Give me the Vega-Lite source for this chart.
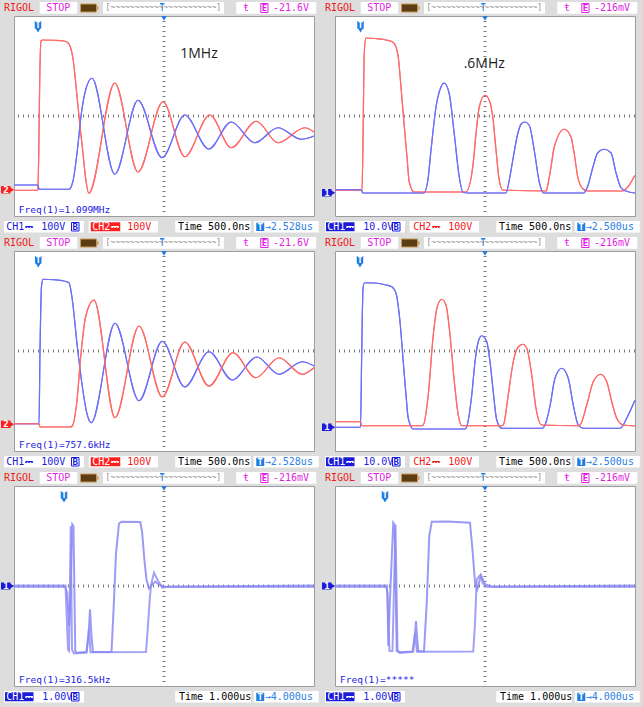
{
  "$schema": "https://vega.github.io/schema/vega-lite/v6.json",
  "background": "#dddddd",
  "padding": 0,
  "config": {"view": {"fill": "#ffffff", "stroke": "#9c9c9c"}, "header": {"labels": false, "title": null, "labelFontSize": 0, "labelPadding": 0, "titlePadding": 0}},
  "data": {"values": [
    {"p":1,"k":"tr","s":"CH2","t":0,"v":-2.97},{"p":1,"k":"tr","s":"CH2","t":0.95,"v":-2.97},{"p":1,"k":"tr","s":"CH2","t":0.99,"v":-1.5},{"p":1,"k":"tr","s":"CH2","t":1.03,"v":1.5},{"p":1,"k":"tr","s":"CH2","t":1.08,"v":3.0},{"p":1,"k":"tr","s":"CH2","t":1.15,"v":3.04},{"p":1,"k":"tr","s":"CH2","t":1.6,"v":3.03},{"p":1,"k":"tr","s":"CH2","t":2.0,"v":3.0},{"p":1,"k":"tr","s":"CH2","t":2.16,"v":2.93},{"p":1,"k":"tr","s":"CH2","t":2.36,"v":2.3},{"p":1,"k":"tr","s":"CH2","t":2.5,"v":1.0},{"p":1,"k":"tr","s":"CH2","t":2.63,"v":-0.3},{"p":1,"k":"tr","s":"CH2","t":2.76,"v":-1.5},{"p":1,"k":"tr","s":"CH2","t":2.88,"v":-2.6},{"p":1,"k":"tr","s":"CH2","t":2.99,"v":-3.09},{"p":1,"k":"tr","s":"CH2","t":4.03,"v":1.32},{"p":1,"k":"tr","s":"CH2","t":4.96,"v":-2.24},{"p":1,"k":"tr","s":"CH2","t":5.96,"v":0.57},{"p":1,"k":"tr","s":"CH2","t":6.83,"v":-1.63},{"p":1,"k":"tr","s":"CH2","t":7.83,"v":0.04},{"p":1,"k":"tr","s":"CH2","t":8.69,"v":-1.27},{"p":1,"k":"tr","s":"CH2","t":9.69,"v":-0.21},{"p":1,"k":"tr","s":"CH2","t":10.56,"v":-1.07},{"p":1,"k":"tr","s":"CH2","t":11.63,"v":-0.47},{"p":1,"k":"tr","s":"CH2","t":12,"v":-0.64},
    {"p":1,"k":"tr","s":"CH1","t":0,"v":-2.76},{"p":1,"k":"tr","s":"CH1","t":0.96,"v":-2.76},{"p":1,"k":"tr","s":"CH1","t":1.0,"v":-2.93},{"p":1,"k":"tr","s":"CH1","t":2.2,"v":-2.93},{"p":1,"k":"tr","s":"CH1","t":2.36,"v":-2.6},{"p":1,"k":"tr","s":"CH1","t":2.53,"v":-1.4},{"p":1,"k":"tr","s":"CH1","t":2.69,"v":0.07},{"p":1,"k":"tr","s":"CH1","t":2.89,"v":1.13},{"p":1,"k":"tr","s":"CH1","t":3.12,"v":1.51},{"p":1,"k":"tr","s":"CH1","t":4.03,"v":-2.33},{"p":1,"k":"tr","s":"CH1","t":4.96,"v":0.63},{"p":1,"k":"tr","s":"CH1","t":5.92,"v":-1.67},{"p":1,"k":"tr","s":"CH1","t":6.83,"v":0.04},{"p":1,"k":"tr","s":"CH1","t":7.79,"v":-1.32},{"p":1,"k":"tr","s":"CH1","t":8.69,"v":-0.24},{"p":1,"k":"tr","s":"CH1","t":9.63,"v":-1.07},{"p":1,"k":"tr","s":"CH1","t":10.56,"v":-0.47},{"p":1,"k":"tr","s":"CH1","t":11.49,"v":-0.93},{"p":1,"k":"tr","s":"CH1","t":12,"v":-0.8},

    {"p":2,"k":"tr","s":"CH2","t":0,"v":-2.97},{"p":2,"k":"tr","s":"CH2","t":1.08,"v":-2.97},{"p":2,"k":"tr","s":"CH2","t":1.12,"v":-1.0},{"p":2,"k":"tr","s":"CH2","t":1.17,"v":2.5},{"p":2,"k":"tr","s":"CH2","t":1.24,"v":3.12},{"p":2,"k":"tr","s":"CH2","t":1.6,"v":3.1},{"p":2,"k":"tr","s":"CH2","t":2.0,"v":3.05},{"p":2,"k":"tr","s":"CH2","t":2.31,"v":2.96},{"p":2,"k":"tr","s":"CH2","t":2.44,"v":2.76},{"p":2,"k":"tr","s":"CH2","t":2.53,"v":2.36},{"p":2,"k":"tr","s":"CH2","t":2.64,"v":1.16},{"p":2,"k":"tr","s":"CH2","t":2.75,"v":-0.17},{"p":2,"k":"tr","s":"CH2","t":2.88,"v":-1.64},{"p":2,"k":"tr","s":"CH2","t":2.97,"v":-2.64},{"p":2,"k":"tr","s":"CH2","t":3.17,"v":-3.04},{"p":2,"k":"tr","s":"CH2","t":5.24,"v":-3.04},{"p":2,"k":"tr","s":"CH2","t":5.51,"v":-2.04},{"p":2,"k":"tr","s":"CH2","t":5.64,"v":-0.71},{"p":2,"k":"tr","s":"CH2","t":5.77,"v":0.36},{"p":2,"k":"tr","s":"CH2","t":6.0,"v":0.83},{"p":2,"k":"tr","s":"CH2","t":6.17,"v":0.63},{"p":2,"k":"tr","s":"CH2","t":6.31,"v":-0.03},{"p":2,"k":"tr","s":"CH2","t":6.44,"v":-1.36},{"p":2,"k":"tr","s":"CH2","t":6.57,"v":-2.56},{"p":2,"k":"tr","s":"CH2","t":6.71,"v":-2.96},{"p":2,"k":"tr","s":"CH2","t":8.45,"v":-3.0},{"p":2,"k":"tr","s":"CH2","t":8.51,"v":-2.77},{"p":2,"k":"tr","s":"CH2","t":8.64,"v":-2.04},{"p":2,"k":"tr","s":"CH2","t":8.77,"v":-1.24},{"p":2,"k":"tr","s":"CH2","t":9.17,"v":-0.53},{"p":2,"k":"tr","s":"CH2","t":9.44,"v":-0.84},{"p":2,"k":"tr","s":"CH2","t":9.57,"v":-1.51},{"p":2,"k":"tr","s":"CH2","t":9.71,"v":-2.44},{"p":2,"k":"tr","s":"CH2","t":9.91,"v":-2.91},{"p":2,"k":"tr","s":"CH2","t":10.1,"v":-3.0},{"p":2,"k":"tr","s":"CH2","t":11.5,"v":-3.0},{"p":2,"k":"tr","s":"CH2","t":11.71,"v":-2.84},{"p":2,"k":"tr","s":"CH2","t":12,"v":-2.37},
    {"p":2,"k":"tr","s":"CH1","t":0,"v":-2.95},{"p":2,"k":"tr","s":"CH1","t":1.06,"v":-2.95},{"p":2,"k":"tr","s":"CH1","t":1.1,"v":-3.08},{"p":2,"k":"tr","s":"CH1","t":3.55,"v":-3.08},{"p":2,"k":"tr","s":"CH1","t":3.71,"v":-2.6},{"p":2,"k":"tr","s":"CH1","t":3.84,"v":-1.37},{"p":2,"k":"tr","s":"CH1","t":4.04,"v":0.36},{"p":2,"k":"tr","s":"CH1","t":4.24,"v":1.16},{"p":2,"k":"tr","s":"CH1","t":4.37,"v":1.32},{"p":2,"k":"tr","s":"CH1","t":4.57,"v":0.89},{"p":2,"k":"tr","s":"CH1","t":4.77,"v":-0.71},{"p":2,"k":"tr","s":"CH1","t":4.97,"v":-2.44},{"p":2,"k":"tr","s":"CH1","t":5.12,"v":-3.05},{"p":2,"k":"tr","s":"CH1","t":5.3,"v":-3.08},{"p":2,"k":"tr","s":"CH1","t":6.84,"v":-3.08},{"p":2,"k":"tr","s":"CH1","t":6.97,"v":-2.57},{"p":2,"k":"tr","s":"CH1","t":7.11,"v":-1.77},{"p":2,"k":"tr","s":"CH1","t":7.31,"v":-0.71},{"p":2,"k":"tr","s":"CH1","t":7.44,"v":-0.33},{"p":2,"k":"tr","s":"CH1","t":7.6,"v":-0.24},{"p":2,"k":"tr","s":"CH1","t":7.77,"v":-0.37},{"p":2,"k":"tr","s":"CH1","t":7.97,"v":-1.37},{"p":2,"k":"tr","s":"CH1","t":8.17,"v":-2.64},{"p":2,"k":"tr","s":"CH1","t":8.35,"v":-3.08},{"p":2,"k":"tr","s":"CH1","t":9.95,"v":-3.08},{"p":2,"k":"tr","s":"CH1","t":10.11,"v":-2.8},{"p":2,"k":"tr","s":"CH1","t":10.31,"v":-2.07},{"p":2,"k":"tr","s":"CH1","t":10.51,"v":-1.47},{"p":2,"k":"tr","s":"CH1","t":10.77,"v":-1.33},{"p":2,"k":"tr","s":"CH1","t":11.04,"v":-1.47},{"p":2,"k":"tr","s":"CH1","t":11.24,"v":-2.27},{"p":2,"k":"tr","s":"CH1","t":11.44,"v":-2.87},{"p":2,"k":"tr","s":"CH1","t":11.64,"v":-3.0},{"p":2,"k":"tr","s":"CH1","t":12,"v":-3.08},

    {"p":3,"k":"tr","s":"CH1","t":0,"v":-2.91},{"p":3,"k":"tr","s":"CH1","t":1.0,"v":-2.91},{"p":3,"k":"tr","s":"CH1","t":1.04,"v":0},{"p":3,"k":"tr","s":"CH1","t":1.1,"v":2.6},{"p":3,"k":"tr","s":"CH1","t":1.16,"v":2.87},{"p":3,"k":"tr","s":"CH1","t":1.6,"v":2.85},{"p":3,"k":"tr","s":"CH1","t":2.0,"v":2.8},{"p":3,"k":"tr","s":"CH1","t":2.2,"v":2.73},{"p":3,"k":"tr","s":"CH1","t":2.33,"v":2.07},{"p":3,"k":"tr","s":"CH1","t":2.53,"v":0.2},{"p":3,"k":"tr","s":"CH1","t":2.73,"v":-1.4},{"p":3,"k":"tr","s":"CH1","t":2.91,"v":-2.47},{"p":3,"k":"tr","s":"CH1","t":3.09,"v":-2.87},{"p":3,"k":"tr","s":"CH1","t":4.04,"v":1.11},{"p":3,"k":"tr","s":"CH1","t":5.0,"v":-1.99},{"p":3,"k":"tr","s":"CH1","t":5.93,"v":0.39},{"p":3,"k":"tr","s":"CH1","t":6.83,"v":-1.44},{"p":3,"k":"tr","s":"CH1","t":7.8,"v":-0.03},{"p":3,"k":"tr","s":"CH1","t":8.73,"v":-1.16},{"p":3,"k":"tr","s":"CH1","t":9.71,"v":-0.24},{"p":3,"k":"tr","s":"CH1","t":10.6,"v":-0.93},{"p":3,"k":"tr","s":"CH1","t":11.53,"v":-0.43},{"p":3,"k":"tr","s":"CH1","t":12,"v":-0.6},
    {"p":3,"k":"tr","s":"CH2","t":0,"v":-2.91},{"p":3,"k":"tr","s":"CH2","t":1.0,"v":-2.91},{"p":3,"k":"tr","s":"CH2","t":1.04,"v":-3.04},{"p":3,"k":"tr","s":"CH2","t":2.25,"v":-3.04},{"p":3,"k":"tr","s":"CH2","t":2.33,"v":-3.0},{"p":3,"k":"tr","s":"CH2","t":2.51,"v":-2.07},{"p":3,"k":"tr","s":"CH2","t":2.67,"v":-0.2},{"p":3,"k":"tr","s":"CH2","t":2.87,"v":1.4},{"p":3,"k":"tr","s":"CH2","t":3.2,"v":2.04},{"p":3,"k":"tr","s":"CH2","t":4.04,"v":-2.67},{"p":3,"k":"tr","s":"CH2","t":5.0,"v":1.0},{"p":3,"k":"tr","s":"CH2","t":5.93,"v":-1.84},{"p":3,"k":"tr","s":"CH2","t":6.83,"v":0.36},{"p":3,"k":"tr","s":"CH2","t":7.8,"v":-1.4},{"p":3,"k":"tr","s":"CH2","t":8.76,"v":-0.07},{"p":3,"k":"tr","s":"CH2","t":9.67,"v":-1.07},{"p":3,"k":"tr","s":"CH2","t":10.6,"v":-0.27},{"p":3,"k":"tr","s":"CH2","t":11.53,"v":-0.93},{"p":3,"k":"tr","s":"CH2","t":12,"v":-0.67},

    {"p":4,"k":"tr","s":"CH1","t":0,"v":-3.05},{"p":4,"k":"tr","s":"CH1","t":1.02,"v":-3.05},{"p":4,"k":"tr","s":"CH1","t":1.07,"v":0},{"p":4,"k":"tr","s":"CH1","t":1.12,"v":2.5},{"p":4,"k":"tr","s":"CH1","t":1.18,"v":2.73},{"p":4,"k":"tr","s":"CH1","t":1.6,"v":2.72},{"p":4,"k":"tr","s":"CH1","t":2.0,"v":2.65},{"p":4,"k":"tr","s":"CH1","t":2.27,"v":2.57},{"p":4,"k":"tr","s":"CH1","t":2.44,"v":2.31},{"p":4,"k":"tr","s":"CH1","t":2.6,"v":1.17},{"p":4,"k":"tr","s":"CH1","t":2.73,"v":-0.43},{"p":4,"k":"tr","s":"CH1","t":2.84,"v":-1.76},{"p":4,"k":"tr","s":"CH1","t":2.93,"v":-2.69},{"p":4,"k":"tr","s":"CH1","t":3.13,"v":-3.12},{"p":4,"k":"tr","s":"CH1","t":5.2,"v":-3.12},{"p":4,"k":"tr","s":"CH1","t":5.27,"v":-3.03},{"p":4,"k":"tr","s":"CH1","t":5.47,"v":-1.76},{"p":4,"k":"tr","s":"CH1","t":5.6,"v":-0.43},{"p":4,"k":"tr","s":"CH1","t":5.73,"v":0.37},{"p":4,"k":"tr","s":"CH1","t":5.87,"v":0.61},{"p":4,"k":"tr","s":"CH1","t":6.07,"v":0.37},{"p":4,"k":"tr","s":"CH1","t":6.2,"v":-0.43},{"p":4,"k":"tr","s":"CH1","t":6.33,"v":-1.63},{"p":4,"k":"tr","s":"CH1","t":6.47,"v":-2.76},{"p":4,"k":"tr","s":"CH1","t":6.67,"v":-3.09},{"p":4,"k":"tr","s":"CH1","t":8.3,"v":-3.09},{"p":4,"k":"tr","s":"CH1","t":8.47,"v":-2.75},{"p":4,"k":"tr","s":"CH1","t":8.6,"v":-2.2},{"p":4,"k":"tr","s":"CH1","t":8.8,"v":-1.09},{"p":4,"k":"tr","s":"CH1","t":9.07,"v":-0.69},{"p":4,"k":"tr","s":"CH1","t":9.33,"v":-1.09},{"p":4,"k":"tr","s":"CH1","t":9.53,"v":-2.16},{"p":4,"k":"tr","s":"CH1","t":9.73,"v":-2.96},{"p":4,"k":"tr","s":"CH1","t":9.93,"v":-3.09},{"p":4,"k":"tr","s":"CH1","t":11.4,"v":-3.09},{"p":4,"k":"tr","s":"CH1","t":11.73,"v":-2.56},{"p":4,"k":"tr","s":"CH1","t":12,"v":-1.96},
    {"p":4,"k":"tr","s":"CH2","t":0,"v":-2.83},{"p":4,"k":"tr","s":"CH2","t":1.02,"v":-2.83},{"p":4,"k":"tr","s":"CH2","t":1.07,"v":-2.99},{"p":4,"k":"tr","s":"CH2","t":3.45,"v":-2.99},{"p":4,"k":"tr","s":"CH2","t":3.53,"v":-2.96},{"p":4,"k":"tr","s":"CH2","t":3.73,"v":-1.76},{"p":4,"k":"tr","s":"CH2","t":3.93,"v":0.64},{"p":4,"k":"tr","s":"CH2","t":4.09,"v":1.77},{"p":4,"k":"tr","s":"CH2","t":4.27,"v":2.07},{"p":4,"k":"tr","s":"CH2","t":4.44,"v":1.84},{"p":4,"k":"tr","s":"CH2","t":4.6,"v":0.64},{"p":4,"k":"tr","s":"CH2","t":4.76,"v":-1.09},{"p":4,"k":"tr","s":"CH2","t":4.93,"v":-2.56},{"p":4,"k":"tr","s":"CH2","t":5.07,"v":-2.99},{"p":4,"k":"tr","s":"CH2","t":6.65,"v":-2.99},{"p":4,"k":"tr","s":"CH2","t":6.73,"v":-2.96},{"p":4,"k":"tr","s":"CH2","t":6.93,"v":-1.76},{"p":4,"k":"tr","s":"CH2","t":7.13,"v":-0.43},{"p":4,"k":"tr","s":"CH2","t":7.33,"v":0.16},{"p":4,"k":"tr","s":"CH2","t":7.51,"v":0.27},{"p":4,"k":"tr","s":"CH2","t":7.67,"v":0.11},{"p":4,"k":"tr","s":"CH2","t":7.87,"v":-0.96},{"p":4,"k":"tr","s":"CH2","t":8.04,"v":-2.29},{"p":4,"k":"tr","s":"CH2","t":8.27,"v":-2.96},{"p":4,"k":"tr","s":"CH2","t":9.7,"v":-2.99},{"p":4,"k":"tr","s":"CH2","t":9.8,"v":-2.96},{"p":4,"k":"tr","s":"CH2","t":10.07,"v":-2.16},{"p":4,"k":"tr","s":"CH2","t":10.33,"v":-1.23},{"p":4,"k":"tr","s":"CH2","t":10.63,"v":-0.93},{"p":4,"k":"tr","s":"CH2","t":10.87,"v":-1.23},{"p":4,"k":"tr","s":"CH2","t":11.07,"v":-2.03},{"p":4,"k":"tr","s":"CH2","t":11.27,"v":-2.69},{"p":4,"k":"tr","s":"CH2","t":11.53,"v":-2.96},{"p":4,"k":"tr","s":"CH2","t":12,"v":-3.0},

    {"p":5,"k":"tr","s":"A","t":0,"v":-0.03},{"p":5,"k":"tr","s":"A","t":2.05,"v":-0.03},{"p":5,"k":"tr","s":"A","t":2.13,"v":-0.3},{"p":5,"k":"tr","s":"A","t":2.2,"v":-1.6},{"p":5,"k":"tr","s":"A","t":2.26,"v":-0.4},{"p":5,"k":"tr","s":"A","t":2.33,"v":2.47},{"p":5,"k":"tr","s":"A","t":2.38,"v":2.4},{"p":5,"k":"tr","s":"A","t":2.45,"v":-2.6},{"p":5,"k":"tr","s":"A","t":2.5,"v":-2.67},{"p":5,"k":"tr","s":"A","t":2.9,"v":-2.64},{"p":5,"k":"tr","s":"A","t":2.98,"v":-2.0},{"p":5,"k":"tr","s":"A","t":3.04,"v":-0.93},{"p":5,"k":"tr","s":"A","t":3.1,"v":-2.0},{"p":5,"k":"tr","s":"A","t":3.16,"v":-2.64},{"p":5,"k":"tr","s":"A","t":3.9,"v":-2.64},{"p":5,"k":"tr","s":"A","t":3.98,"v":-1.0},{"p":5,"k":"tr","s":"A","t":4.08,"v":1.3},{"p":5,"k":"tr","s":"A","t":4.2,"v":2.5},{"p":5,"k":"tr","s":"A","t":4.3,"v":2.57},{"p":5,"k":"tr","s":"A","t":5.05,"v":2.56},{"p":5,"k":"tr","s":"A","t":5.12,"v":2.2},{"p":5,"k":"tr","s":"A","t":5.22,"v":1.0},{"p":5,"k":"tr","s":"A","t":5.3,"v":0.25},{"p":5,"k":"tr","s":"A","t":5.4,"v":-0.1},{"p":5,"k":"tr","s":"A","t":5.52,"v":0.05},{"p":5,"k":"tr","s":"A","t":5.65,"v":0.18},{"p":5,"k":"tr","s":"A","t":5.8,"v":0.05},{"p":5,"k":"tr","s":"A","t":6.0,"v":-0.03},{"p":5,"k":"tr","s":"A","t":12,"v":-0.03},
    {"p":5,"k":"tr","s":"B","t":0,"v":0.02},{"p":5,"k":"tr","s":"B","t":2.06,"v":0.02},{"p":5,"k":"tr","s":"B","t":2.16,"v":-2.55},{"p":5,"k":"tr","s":"B","t":2.2,"v":-2.6},{"p":5,"k":"tr","s":"B","t":2.27,"v":2.4},{"p":5,"k":"tr","s":"B","t":2.32,"v":-2.55},{"p":5,"k":"tr","s":"B","t":2.4,"v":-2.7},{"p":5,"k":"tr","s":"B","t":2.9,"v":-2.66},{"p":5,"k":"tr","s":"B","t":3.0,"v":-1.7},{"p":5,"k":"tr","s":"B","t":3.06,"v":-2.65},{"p":5,"k":"tr","s":"B","t":5.28,"v":-2.64},{"p":5,"k":"tr","s":"B","t":5.33,"v":-2.0},{"p":5,"k":"tr","s":"B","t":5.44,"v":-0.4},{"p":5,"k":"tr","s":"B","t":5.49,"v":0.07},{"p":5,"k":"tr","s":"B","t":5.6,"v":0.53},{"p":5,"k":"tr","s":"B","t":5.73,"v":0.27},{"p":5,"k":"tr","s":"B","t":5.93,"v":-0.07},{"p":5,"k":"tr","s":"B","t":6.13,"v":-0.03},{"p":5,"k":"tr","s":"B","t":12,"v":0.02},

    {"p":6,"k":"tr","s":"A","t":0,"v":-0.03},{"p":6,"k":"tr","s":"A","t":2.05,"v":-0.03},{"p":6,"k":"tr","s":"A","t":2.1,"v":-0.3},{"p":6,"k":"tr","s":"A","t":2.13,"v":-2.4},{"p":6,"k":"tr","s":"A","t":2.2,"v":-0.5},{"p":6,"k":"tr","s":"A","t":2.33,"v":2.53},{"p":6,"k":"tr","s":"A","t":2.38,"v":2.45},{"p":6,"k":"tr","s":"A","t":2.47,"v":-2.6},{"p":6,"k":"tr","s":"A","t":2.55,"v":-2.65},{"p":6,"k":"tr","s":"A","t":3.13,"v":-2.62},{"p":6,"k":"tr","s":"A","t":3.2,"v":-1.9},{"p":6,"k":"tr","s":"A","t":3.24,"v":-1.4},{"p":6,"k":"tr","s":"A","t":3.28,"v":-2.0},{"p":6,"k":"tr","s":"A","t":3.33,"v":-2.6},{"p":6,"k":"tr","s":"A","t":3.56,"v":-2.62},{"p":6,"k":"tr","s":"A","t":3.67,"v":-0.67},{"p":6,"k":"tr","s":"A","t":3.77,"v":2.0},{"p":6,"k":"tr","s":"A","t":3.87,"v":2.57},{"p":6,"k":"tr","s":"A","t":4.5,"v":2.58},{"p":6,"k":"tr","s":"A","t":5.4,"v":2.53},{"p":6,"k":"tr","s":"A","t":5.51,"v":1.33},{"p":6,"k":"tr","s":"A","t":5.6,"v":0.13},{"p":6,"k":"tr","s":"A","t":5.69,"v":-0.13},{"p":6,"k":"tr","s":"A","t":5.84,"v":0.43},{"p":6,"k":"tr","s":"A","t":6.0,"v":0.07},{"p":6,"k":"tr","s":"A","t":6.3,"v":-0.03},{"p":6,"k":"tr","s":"A","t":12,"v":-0.03},
    {"p":6,"k":"tr","s":"B","t":0,"v":0.02},{"p":6,"k":"tr","s":"B","t":2.08,"v":0.02},{"p":6,"k":"tr","s":"B","t":2.18,"v":-2.6},{"p":6,"k":"tr","s":"B","t":2.3,"v":-2.6},{"p":6,"k":"tr","s":"B","t":2.42,"v":2.45},{"p":6,"k":"tr","s":"B","t":2.5,"v":-2.55},{"p":6,"k":"tr","s":"B","t":2.6,"v":-2.68},{"p":6,"k":"tr","s":"B","t":3.1,"v":-2.63},{"p":6,"k":"tr","s":"B","t":3.2,"v":-1.9},{"p":6,"k":"tr","s":"B","t":3.28,"v":-2.63},{"p":6,"k":"tr","s":"B","t":5.53,"v":-2.62},{"p":6,"k":"tr","s":"B","t":5.6,"v":-1.5},{"p":6,"k":"tr","s":"B","t":5.67,"v":0.27},{"p":6,"k":"tr","s":"B","t":5.8,"v":0.43},{"p":6,"k":"tr","s":"B","t":5.92,"v":0.1},{"p":6,"k":"tr","s":"B","t":6.05,"v":-0.03},{"p":6,"k":"tr","s":"B","t":12,"v":0.02},

    {"p":1,"k":"fr"},{"p":1,"k":"tx","r":"red","t":-0.4,"v":4.31,"txt":"RIGOL"},{"p":1,"k":"bx","r":"white","t":1.03,"t2":2.53,"v":4.09,"v2":4.56},{"p":1,"k":"tx","r":"mag","t":1.29,"v":4.31,"txt":"STOP"},{"p":1,"k":"bx","r":"bat","t":2.66,"t2":3.3,"v":4.16,"v2":4.48},{"p":1,"k":"ol","r":"bat","t":2.66,"t2":3.3,"v":4.16,"v2":4.48},{"p":1,"k":"bx","r":"batc","t":3.3,"t2":3.38,"v":4.25,"v2":4.39},{"p":1,"k":"bx","r":"white","t":3.56,"t2":8.4,"v":4.09,"v2":4.56},{"p":1,"k":"mz","r":"grey","t":3.66,"v":4.31,"txt":"[~~~~~~~~~~~~~~~~~~~~~~]"},{"p":1,"k":"bx","r":"sky","t":5.84,"t2":6.02,"v":4.46,"v2":4.52},{"p":1,"k":"bx","r":"sky","t":5.91,"t2":5.95,"v":4.2,"v2":4.5},{"p":1,"k":"bx","r":"white","t":8.89,"t2":12.09,"v":4.09,"v2":4.56},{"p":1,"k":"tx","r":"mag","t":9.16,"v":4.31,"txt":"ŧ"},{"p":1,"k":"ol","r":"outmag","t":9.87,"t2":10.16,"v":4.14,"v2":4.5},{"p":1,"k":"tc","r":"mag","t":10.015,"v":4.31,"txt":"E"},{"p":1,"k":"tx","r":"mag","t":10.36,"v":4.31,"txt":"-21.6V"},{"p":1,"k":"td","r":"tag","t":6,"v":3.9},
    {"p":1,"k":"bx","r":"tag","t":0.83,"t2":1.09,"v":3.5,"v2":3.8},{"p":1,"k":"tc","r":"white","t":0.96,"v":3.65,"txt":"T"},{"p":1,"k":"td","r":"tag","t":0.96,"v":3.43},
    {"p":1,"k":"bx","r":"hlred","t":-0.52,"t2":-0.14,"v":-3.1,"v2":-2.8},{"p":1,"k":"trr","r":"hlred","t":-0.1,"v":-2.95},{"p":1,"k":"tc","r":"white","t":-0.32,"v":-2.95,"txt":"2"},
    {"p":1,"k":"bx","r":"white","t":-0.4,"t2":2.8,"v":-4.2,"v2":-4.66},{"p":1,"k":"tx","r":"blue","t":-0.31,"v":-4.44,"txt":"CH1"},{"p":1,"k":"tx","r":"blue","t":0.45,"v":-4.44,"txt":"⎓"},{"p":1,"k":"tx","r":"blue","t":1.09,"v":-4.44,"txt":"100V"},{"p":1,"k":"ol","r":"outblue","t":2.3,"t2":2.6,"v":-4.26,"v2":-4.6},{"p":1,"k":"tc","r":"blue","t":2.45,"v":-4.44,"txt":"B"},
    {"p":1,"k":"bx","r":"white","t":2.99,"t2":5.76,"v":-4.2,"v2":-4.66},{"p":1,"k":"bx","r":"hlred","t":3.07,"t2":4.25,"v":-4.25,"v2":-4.61},{"p":1,"k":"tx","r":"white","t":3.13,"v":-4.44,"txt":"CH2"},{"p":1,"k":"tx","r":"white","t":3.87,"v":-4.44,"txt":"⎓"},{"p":1,"k":"tx","r":"red","t":4.53,"v":-4.44,"txt":"100V"},
    {"p":1,"k":"bx","r":"white","t":6.45,"t2":9.47,"v":-4.2,"v2":-4.66},{"p":1,"k":"tx","r":"black","t":6.56,"v":-4.44,"txt":"Time 500.0ns"},{"p":1,"k":"bx","r":"white","t":9.59,"t2":12.19,"v":-4.2,"v2":-4.66},{"p":1,"k":"bx","r":"tag","t":9.69,"t2":10.01,"v":-4.27,"v2":-4.6},{"p":1,"k":"tc","r":"white","t":9.85,"v":-4.44,"txt":"T"},{"p":1,"k":"tx","r":"sky","t":10.03,"v":-4.44,"txt":"→2.528us"},
    {"p":1,"k":"fq","r":"blue","t":0.19,"v":-3.77,"txt":"Freq(1)=1.099MHz"},{"p":1,"k":"an","r":"ann","t":7.4,"v":2.47,"txt":"1MHz"},

    {"p":2,"k":"fr"},{"p":2,"k":"tx","r":"red","t":-0.4,"v":4.31,"txt":"RIGOL"},{"p":2,"k":"bx","r":"white","t":1.03,"t2":2.53,"v":4.09,"v2":4.56},{"p":2,"k":"tx","r":"mag","t":1.29,"v":4.31,"txt":"STOP"},{"p":2,"k":"bx","r":"bat","t":2.66,"t2":3.3,"v":4.16,"v2":4.48},{"p":2,"k":"ol","r":"bat","t":2.66,"t2":3.3,"v":4.16,"v2":4.48},{"p":2,"k":"bx","r":"batc","t":3.3,"t2":3.38,"v":4.25,"v2":4.39},{"p":2,"k":"bx","r":"white","t":3.56,"t2":8.4,"v":4.09,"v2":4.56},{"p":2,"k":"mz","r":"grey","t":3.66,"v":4.31,"txt":"[~~~~~~~~~~~~~~~~~~~~~~]"},{"p":2,"k":"bx","r":"sky","t":5.84,"t2":6.02,"v":4.46,"v2":4.52},{"p":2,"k":"bx","r":"sky","t":5.91,"t2":5.95,"v":4.2,"v2":4.5},{"p":2,"k":"bx","r":"white","t":8.89,"t2":12.09,"v":4.09,"v2":4.56},{"p":2,"k":"tx","r":"mag","t":9.16,"v":4.31,"txt":"ŧ"},{"p":2,"k":"ol","r":"outmag","t":9.87,"t2":10.16,"v":4.14,"v2":4.5},{"p":2,"k":"tc","r":"mag","t":10.015,"v":4.31,"txt":"E"},{"p":2,"k":"tx","r":"mag","t":10.36,"v":4.31,"txt":"-216mV"},{"p":2,"k":"td","r":"tag","t":6,"v":3.9},
    {"p":2,"k":"bx","r":"tag","t":0.89,"t2":1.15,"v":3.5,"v2":3.8},{"p":2,"k":"tc","r":"white","t":1.02,"v":3.65,"txt":"T"},{"p":2,"k":"td","r":"tag","t":1.02,"v":3.43},
    {"p":2,"k":"bx","r":"hlblue","t":-0.52,"t2":-0.14,"v":-3.22,"v2":-2.92},{"p":2,"k":"trr","r":"hlblue","t":-0.1,"v":-3.07},{"p":2,"k":"tc","r":"white","t":-0.32,"v":-3.07,"txt":"1"},
    {"p":2,"k":"bx","r":"white","t":-0.4,"t2":2.8,"v":-4.2,"v2":-4.66},{"p":2,"k":"bx","r":"hlblue","t":-0.36,"t2":0.78,"v":-4.25,"v2":-4.61},{"p":2,"k":"tx","r":"white","t":-0.31,"v":-4.44,"txt":"CH1"},{"p":2,"k":"tx","r":"white","t":0.45,"v":-4.44,"txt":"⎓"},{"p":2,"k":"tx","r":"blue","t":1.13,"v":-4.44,"txt":"10.0V"},{"p":2,"k":"ol","r":"outblue","t":2.3,"t2":2.6,"v":-4.26,"v2":-4.6},{"p":2,"k":"tc","r":"blue","t":2.45,"v":-4.44,"txt":"B"},
    {"p":2,"k":"bx","r":"white","t":2.99,"t2":5.76,"v":-4.2,"v2":-4.66},{"p":2,"k":"tx","r":"red","t":3.13,"v":-4.44,"txt":"CH2"},{"p":2,"k":"tx","r":"red","t":3.87,"v":-4.44,"txt":"⎓"},{"p":2,"k":"tx","r":"red","t":4.53,"v":-4.44,"txt":"100V"},
    {"p":2,"k":"bx","r":"white","t":6.45,"t2":9.47,"v":-4.2,"v2":-4.66},{"p":2,"k":"tx","r":"black","t":6.56,"v":-4.44,"txt":"Time 500.0ns"},{"p":2,"k":"bx","r":"white","t":9.59,"t2":12.19,"v":-4.2,"v2":-4.66},{"p":2,"k":"bx","r":"tag","t":9.69,"t2":10.01,"v":-4.27,"v2":-4.6},{"p":2,"k":"tc","r":"white","t":9.85,"v":-4.44,"txt":"T"},{"p":2,"k":"tx","r":"sky","t":10.03,"v":-4.44,"txt":"→2.500us"},
    {"p":2,"k":"an","r":"ann","t":5.97,"v":2.09,"txt":".6MHz"},

    {"p":3,"k":"fr"},{"p":3,"k":"tx","r":"red","t":-0.4,"v":4.31,"txt":"RIGOL"},{"p":3,"k":"bx","r":"white","t":1.03,"t2":2.53,"v":4.09,"v2":4.56},{"p":3,"k":"tx","r":"mag","t":1.29,"v":4.31,"txt":"STOP"},{"p":3,"k":"bx","r":"bat","t":2.66,"t2":3.3,"v":4.16,"v2":4.48},{"p":3,"k":"ol","r":"bat","t":2.66,"t2":3.3,"v":4.16,"v2":4.48},{"p":3,"k":"bx","r":"batc","t":3.3,"t2":3.38,"v":4.25,"v2":4.39},{"p":3,"k":"bx","r":"white","t":3.56,"t2":8.4,"v":4.09,"v2":4.56},{"p":3,"k":"mz","r":"grey","t":3.66,"v":4.31,"txt":"[~~~~~~~~~~~~~~~~~~~~~~]"},{"p":3,"k":"bx","r":"sky","t":5.84,"t2":6.02,"v":4.46,"v2":4.52},{"p":3,"k":"bx","r":"sky","t":5.91,"t2":5.95,"v":4.2,"v2":4.5},{"p":3,"k":"bx","r":"white","t":8.89,"t2":12.09,"v":4.09,"v2":4.56},{"p":3,"k":"tx","r":"mag","t":9.16,"v":4.31,"txt":"ŧ"},{"p":3,"k":"ol","r":"outmag","t":9.87,"t2":10.16,"v":4.14,"v2":4.5},{"p":3,"k":"tc","r":"mag","t":10.015,"v":4.31,"txt":"E"},{"p":3,"k":"tx","r":"mag","t":10.36,"v":4.31,"txt":"-21.6V"},{"p":3,"k":"td","r":"tag","t":6,"v":3.9},
    {"p":3,"k":"bx","r":"tag","t":0.84,"t2":1.1,"v":3.5,"v2":3.8},{"p":3,"k":"tc","r":"white","t":0.97,"v":3.65,"txt":"T"},{"p":3,"k":"td","r":"tag","t":0.97,"v":3.43},
    {"p":3,"k":"bx","r":"hlred","t":-0.52,"t2":-0.14,"v":-3.08,"v2":-2.78},{"p":3,"k":"trr","r":"hlred","t":-0.1,"v":-2.93},{"p":3,"k":"tc","r":"white","t":-0.32,"v":-2.93,"txt":"2"},
    {"p":3,"k":"bx","r":"white","t":-0.4,"t2":2.8,"v":-4.2,"v2":-4.66},{"p":3,"k":"tx","r":"blue","t":-0.31,"v":-4.44,"txt":"CH1"},{"p":3,"k":"tx","r":"blue","t":0.45,"v":-4.44,"txt":"⎓"},{"p":3,"k":"tx","r":"blue","t":1.09,"v":-4.44,"txt":"100V"},{"p":3,"k":"ol","r":"outblue","t":2.3,"t2":2.6,"v":-4.26,"v2":-4.6},{"p":3,"k":"tc","r":"blue","t":2.45,"v":-4.44,"txt":"B"},
    {"p":3,"k":"bx","r":"white","t":2.99,"t2":5.76,"v":-4.2,"v2":-4.66},{"p":3,"k":"bx","r":"hlred","t":3.07,"t2":4.25,"v":-4.25,"v2":-4.61},{"p":3,"k":"tx","r":"white","t":3.13,"v":-4.44,"txt":"CH2"},{"p":3,"k":"tx","r":"white","t":3.87,"v":-4.44,"txt":"⎓"},{"p":3,"k":"tx","r":"red","t":4.53,"v":-4.44,"txt":"100V"},
    {"p":3,"k":"bx","r":"white","t":6.45,"t2":9.47,"v":-4.2,"v2":-4.66},{"p":3,"k":"tx","r":"black","t":6.56,"v":-4.44,"txt":"Time 500.0ns"},{"p":3,"k":"bx","r":"white","t":9.59,"t2":12.19,"v":-4.2,"v2":-4.66},{"p":3,"k":"bx","r":"tag","t":9.69,"t2":10.01,"v":-4.27,"v2":-4.6},{"p":3,"k":"tc","r":"white","t":9.85,"v":-4.44,"txt":"T"},{"p":3,"k":"tx","r":"sky","t":10.03,"v":-4.44,"txt":"→2.528us"},
    {"p":3,"k":"fq","r":"blue","t":0.2,"v":-3.77,"txt":"Freq(1)=757.6kHz"},

    {"p":4,"k":"fr"},{"p":4,"k":"tx","r":"red","t":-0.4,"v":4.31,"txt":"RIGOL"},{"p":4,"k":"bx","r":"white","t":1.03,"t2":2.53,"v":4.09,"v2":4.56},{"p":4,"k":"tx","r":"mag","t":1.29,"v":4.31,"txt":"STOP"},{"p":4,"k":"bx","r":"bat","t":2.66,"t2":3.3,"v":4.16,"v2":4.48},{"p":4,"k":"ol","r":"bat","t":2.66,"t2":3.3,"v":4.16,"v2":4.48},{"p":4,"k":"bx","r":"batc","t":3.3,"t2":3.38,"v":4.25,"v2":4.39},{"p":4,"k":"bx","r":"white","t":3.56,"t2":8.4,"v":4.09,"v2":4.56},{"p":4,"k":"mz","r":"grey","t":3.66,"v":4.31,"txt":"[~~~~~~~~~~~~~~~~~~~~~~]"},{"p":4,"k":"bx","r":"sky","t":5.84,"t2":6.02,"v":4.46,"v2":4.52},{"p":4,"k":"bx","r":"sky","t":5.91,"t2":5.95,"v":4.2,"v2":4.5},{"p":4,"k":"bx","r":"white","t":8.89,"t2":12.09,"v":4.09,"v2":4.56},{"p":4,"k":"tx","r":"mag","t":9.16,"v":4.31,"txt":"ŧ"},{"p":4,"k":"ol","r":"outmag","t":9.87,"t2":10.16,"v":4.14,"v2":4.5},{"p":4,"k":"tc","r":"mag","t":10.015,"v":4.31,"txt":"E"},{"p":4,"k":"tx","r":"mag","t":10.36,"v":4.31,"txt":"-216mV"},{"p":4,"k":"td","r":"tag","t":6,"v":3.9},
    {"p":4,"k":"bx","r":"tag","t":0.87,"t2":1.13,"v":3.5,"v2":3.8},{"p":4,"k":"tc","r":"white","t":1.0,"v":3.65,"txt":"T"},{"p":4,"k":"td","r":"tag","t":1.0,"v":3.43},
    {"p":4,"k":"bx","r":"hlblue","t":-0.52,"t2":-0.14,"v":-3.2,"v2":-2.9},{"p":4,"k":"trr","r":"hlblue","t":-0.1,"v":-3.05},{"p":4,"k":"tc","r":"white","t":-0.32,"v":-3.05,"txt":"1"},
    {"p":4,"k":"bx","r":"white","t":-0.4,"t2":2.8,"v":-4.2,"v2":-4.66},{"p":4,"k":"bx","r":"hlblue","t":-0.36,"t2":0.78,"v":-4.25,"v2":-4.61},{"p":4,"k":"tx","r":"white","t":-0.31,"v":-4.44,"txt":"CH1"},{"p":4,"k":"tx","r":"white","t":0.45,"v":-4.44,"txt":"⎓"},{"p":4,"k":"tx","r":"blue","t":1.13,"v":-4.44,"txt":"10.0V"},{"p":4,"k":"ol","r":"outblue","t":2.3,"t2":2.6,"v":-4.26,"v2":-4.6},{"p":4,"k":"tc","r":"blue","t":2.45,"v":-4.44,"txt":"B"},
    {"p":4,"k":"bx","r":"white","t":2.99,"t2":5.76,"v":-4.2,"v2":-4.66},{"p":4,"k":"tx","r":"red","t":3.13,"v":-4.44,"txt":"CH2"},{"p":4,"k":"tx","r":"red","t":3.87,"v":-4.44,"txt":"⎓"},{"p":4,"k":"tx","r":"red","t":4.53,"v":-4.44,"txt":"100V"},
    {"p":4,"k":"bx","r":"white","t":6.45,"t2":9.47,"v":-4.2,"v2":-4.66},{"p":4,"k":"tx","r":"black","t":6.56,"v":-4.44,"txt":"Time 500.0ns"},{"p":4,"k":"bx","r":"white","t":9.59,"t2":12.19,"v":-4.2,"v2":-4.66},{"p":4,"k":"bx","r":"tag","t":9.69,"t2":10.01,"v":-4.27,"v2":-4.6},{"p":4,"k":"tc","r":"white","t":9.85,"v":-4.44,"txt":"T"},{"p":4,"k":"tx","r":"sky","t":10.03,"v":-4.44,"txt":"→2.500us"},

    {"p":5,"k":"fr"},{"p":5,"k":"tx","r":"red","t":-0.4,"v":4.31,"txt":"RIGOL"},{"p":5,"k":"bx","r":"white","t":1.03,"t2":2.53,"v":4.09,"v2":4.56},{"p":5,"k":"tx","r":"mag","t":1.29,"v":4.31,"txt":"STOP"},{"p":5,"k":"bx","r":"bat","t":2.66,"t2":3.3,"v":4.16,"v2":4.48},{"p":5,"k":"ol","r":"bat","t":2.66,"t2":3.3,"v":4.16,"v2":4.48},{"p":5,"k":"bx","r":"batc","t":3.3,"t2":3.38,"v":4.25,"v2":4.39},{"p":5,"k":"bx","r":"white","t":3.56,"t2":8.4,"v":4.09,"v2":4.56},{"p":5,"k":"mz","r":"grey","t":3.66,"v":4.31,"txt":"[~~~~~~~~~~~~~~~~~~~~~~]"},{"p":5,"k":"bx","r":"sky","t":5.84,"t2":6.02,"v":4.46,"v2":4.52},{"p":5,"k":"bx","r":"sky","t":5.91,"t2":5.95,"v":4.2,"v2":4.5},{"p":5,"k":"bx","r":"white","t":8.89,"t2":12.09,"v":4.09,"v2":4.56},{"p":5,"k":"tx","r":"mag","t":9.16,"v":4.31,"txt":"ŧ"},{"p":5,"k":"ol","r":"outmag","t":9.87,"t2":10.16,"v":4.14,"v2":4.5},{"p":5,"k":"tc","r":"mag","t":10.015,"v":4.31,"txt":"E"},{"p":5,"k":"tx","r":"mag","t":10.36,"v":4.31,"txt":"-216mV"},{"p":5,"k":"td","r":"tag","t":6,"v":3.9},
    {"p":5,"k":"bx","r":"tag","t":1.87,"t2":2.13,"v":3.5,"v2":3.8},{"p":5,"k":"tc","r":"white","t":2.0,"v":3.65,"txt":"T"},{"p":5,"k":"td","r":"tag","t":2.0,"v":3.43},
    {"p":5,"k":"bx","r":"hlblue","t":-0.52,"t2":-0.14,"v":-0.14,"v2":0.14},{"p":5,"k":"trr","r":"hlblue","t":-0.1,"v":0},{"p":5,"k":"tc","r":"white","t":-0.32,"v":0,"txt":"1"},
    {"p":5,"k":"bx","r":"white","t":-0.4,"t2":2.8,"v":-4.2,"v2":-4.66},{"p":5,"k":"bx","r":"hlblue","t":-0.36,"t2":0.78,"v":-4.25,"v2":-4.61},{"p":5,"k":"tx","r":"white","t":-0.31,"v":-4.44,"txt":"CH1"},{"p":5,"k":"tx","r":"white","t":0.45,"v":-4.44,"txt":"⎓"},{"p":5,"k":"tx","r":"blue","t":1.13,"v":-4.44,"txt":"1.00V"},{"p":5,"k":"ol","r":"outblue","t":2.3,"t2":2.6,"v":-4.26,"v2":-4.6},{"p":5,"k":"tc","r":"blue","t":2.45,"v":-4.44,"txt":"B"},
    {"p":5,"k":"bx","r":"white","t":6.45,"t2":9.47,"v":-4.2,"v2":-4.66},{"p":5,"k":"tx","r":"black","t":6.6,"v":-4.44,"txt":"Time 1.000us"},{"p":5,"k":"bx","r":"white","t":9.59,"t2":12.19,"v":-4.2,"v2":-4.66},{"p":5,"k":"bx","r":"tag","t":9.69,"t2":10.01,"v":-4.27,"v2":-4.6},{"p":5,"k":"tc","r":"white","t":9.85,"v":-4.44,"txt":"T"},{"p":5,"k":"tx","r":"sky","t":10.03,"v":-4.44,"txt":"→4.000us"},
    {"p":5,"k":"fq","r":"blue","t":0.2,"v":-3.77,"txt":"Freq(1)=316.5kHz"},

    {"p":6,"k":"fr"},{"p":6,"k":"tx","r":"red","t":-0.4,"v":4.31,"txt":"RIGOL"},{"p":6,"k":"bx","r":"white","t":1.03,"t2":2.53,"v":4.09,"v2":4.56},{"p":6,"k":"tx","r":"mag","t":1.29,"v":4.31,"txt":"STOP"},{"p":6,"k":"bx","r":"bat","t":2.66,"t2":3.3,"v":4.16,"v2":4.48},{"p":6,"k":"ol","r":"bat","t":2.66,"t2":3.3,"v":4.16,"v2":4.48},{"p":6,"k":"bx","r":"batc","t":3.3,"t2":3.38,"v":4.25,"v2":4.39},{"p":6,"k":"bx","r":"white","t":3.56,"t2":8.4,"v":4.09,"v2":4.56},{"p":6,"k":"mz","r":"grey","t":3.66,"v":4.31,"txt":"[~~~~~~~~~~~~~~~~~~~~~~]"},{"p":6,"k":"bx","r":"sky","t":5.84,"t2":6.02,"v":4.46,"v2":4.52},{"p":6,"k":"bx","r":"sky","t":5.91,"t2":5.95,"v":4.2,"v2":4.5},{"p":6,"k":"bx","r":"white","t":8.89,"t2":12.09,"v":4.09,"v2":4.56},{"p":6,"k":"tx","r":"mag","t":9.16,"v":4.31,"txt":"ŧ"},{"p":6,"k":"ol","r":"outmag","t":9.87,"t2":10.16,"v":4.14,"v2":4.5},{"p":6,"k":"tc","r":"mag","t":10.015,"v":4.31,"txt":"E"},{"p":6,"k":"tx","r":"mag","t":10.36,"v":4.31,"txt":"-216mV"},{"p":6,"k":"td","r":"tag","t":6,"v":3.9},
    {"p":6,"k":"bx","r":"tag","t":1.87,"t2":2.13,"v":3.5,"v2":3.8},{"p":6,"k":"tc","r":"white","t":2.0,"v":3.65,"txt":"T"},{"p":6,"k":"td","r":"tag","t":2.0,"v":3.43},
    {"p":6,"k":"bx","r":"hlblue","t":-0.52,"t2":-0.14,"v":-0.14,"v2":0.14},{"p":6,"k":"trr","r":"hlblue","t":-0.1,"v":0},{"p":6,"k":"tc","r":"white","t":-0.32,"v":0,"txt":"1"},
    {"p":6,"k":"bx","r":"white","t":-0.4,"t2":2.8,"v":-4.2,"v2":-4.66},{"p":6,"k":"bx","r":"hlblue","t":-0.36,"t2":0.78,"v":-4.25,"v2":-4.61},{"p":6,"k":"tx","r":"white","t":-0.31,"v":-4.44,"txt":"CH1"},{"p":6,"k":"tx","r":"white","t":0.45,"v":-4.44,"txt":"⎓"},{"p":6,"k":"tx","r":"blue","t":1.13,"v":-4.44,"txt":"1.00V"},{"p":6,"k":"ol","r":"outblue","t":2.3,"t2":2.6,"v":-4.26,"v2":-4.6},{"p":6,"k":"tc","r":"blue","t":2.45,"v":-4.44,"txt":"B"},
    {"p":6,"k":"bx","r":"white","t":6.45,"t2":9.47,"v":-4.2,"v2":-4.66},{"p":6,"k":"tx","r":"black","t":6.6,"v":-4.44,"txt":"Time 1.000us"},{"p":6,"k":"bx","r":"white","t":9.59,"t2":12.19,"v":-4.2,"v2":-4.66},{"p":6,"k":"bx","r":"tag","t":9.69,"t2":10.01,"v":-4.27,"v2":-4.6},{"p":6,"k":"tc","r":"white","t":9.85,"v":-4.44,"txt":"T"},{"p":6,"k":"tx","r":"sky","t":10.03,"v":-4.44,"txt":"→4.000us"},
    {"p":6,"k":"fq","r":"blue","t":0.2,"v":-3.77,"txt":"Freq(1)=*****"}
  ]},
  "facet": {"field": "p", "type": "ordinal", "header": null},
  "columns": 2,
  "spacing": {"row": 35, "column": 21},
  "bounds": "flush",
  "spec": {
    "width": 300,
    "height": 200,
    "layer": [
      {
        "transform": [{"filter": "datum.k=='fr'"}],
        "mark": {"type": "rect", "opacity": 0},
        "encoding": {
          "x": {"datum": -0.52, "type": "quantitative", "scale": {"domain": [0, 12], "nice": false, "zero": false}, "axis": null},
          "x2": {"datum": 12.36},
          "y": {"datum": 4.6, "type": "quantitative", "scale": {"domain": [-4, 4], "nice": false, "zero": false}, "axis": null},
          "y2": {"datum": -4.88}
        }
      },
      {
        "transform": [{"filter": "datum.k=='tr' && datum.p<=4"}],
        "mark": {"type": "line", "interpolate": "monotone", "strokeWidth": 1.2},
        "encoding": {
          "x": {"field": "t", "type": "quantitative", "scale": {"domain": [0, 12], "nice": false, "zero": false},
                "axis": {"values": [1, 2, 3, 4, 5, 7, 8, 9, 10, 11], "grid": true, "gridDash": [1, 4], "gridColor": "#7a7a7a", "ticks": false, "labels": false, "domain": false, "title": null, "minExtent": 0, "maxExtent": 0}},
          "y": {"field": "v", "type": "quantitative", "scale": {"domain": [-4, 4], "nice": false, "zero": false},
                "axis": {"values": [-3, -2, -1, 1, 2, 3], "grid": true, "gridDash": [1, 4], "gridColor": "#7a7a7a", "ticks": false, "labels": false, "domain": false, "title": null, "minExtent": 0, "maxExtent": 0}},
          "color": {"field": "s", "type": "nominal", "legend": null,
                    "scale": {"domain": ["CH1","CH2","A","B","red","mag","blue","black","sky","white","grey","ann","bat","batc","hlred","hlblue","tag"],
                              "range": ["#6f6ff7","#ff6b6b","#8282f2","#8a8af4","#f01818","#e21ee2","#1a1ae0","#000000","#2a80e6","#ffffff","#8c8c8c","#1e1e1e","#5c3c12","#c89858","#ff1f1f","#1a1ad8","#1e7ce2"]}}
        }
      },
      {
        "transform": [{"filter": "datum.k=='fr'"}],
        "mark": {"type": "rule", "strokeDash": [1, 4], "strokeWidth": 3, "color": "#7a7a7a"},
        "encoding": {"x": {"datum": 6, "type": "quantitative", "scale": {"domain": [0, 12], "nice": false, "zero": false}, "axis": null}}
      },
      {
        "transform": [{"filter": "datum.k=='fr'"}],
        "mark": {"type": "rule", "strokeDash": [1, 4], "strokeWidth": 3, "color": "#7a7a7a"},
        "encoding": {"y": {"datum": 0, "type": "quantitative", "scale": {"domain": [-4, 4], "nice": false, "zero": false}, "axis": null}}
      },
      {
        "transform": [{"filter": "datum.k=='tr' && datum.p<=4"}],
        "mark": {"type": "line", "interpolate": "monotone", "strokeWidth": 1.2},
        "encoding": {
          "x": {"field": "t", "type": "quantitative", "scale": {"domain": [0, 12], "nice": false, "zero": false}, "axis": null},
          "y": {"field": "v", "type": "quantitative", "scale": {"domain": [-4, 4], "nice": false, "zero": false}, "axis": null},
          "color": {"field": "s", "type": "nominal", "legend": null}
        }
      },
      {
        "transform": [{"filter": "datum.k=='tr' && datum.p>=5"}],
        "mark": {"type": "line", "strokeWidth": 2, "opacity": 0.8},
        "encoding": {
          "x": {"field": "t", "type": "quantitative", "scale": {"domain": [0, 12], "nice": false, "zero": false}, "axis": null},
          "y": {"field": "v", "type": "quantitative", "scale": {"domain": [-4, 4], "nice": false, "zero": false}, "axis": null},
          "color": {"field": "s", "type": "nominal", "legend": null}
        }
      },
      {
        "transform": [{"filter": "datum.k=='bx'"}],
        "mark": {"type": "rect"},
        "encoding": {
          "x": {"field": "t", "type": "quantitative", "scale": {"domain": [0, 12], "nice": false, "zero": false}, "axis": null},
          "x2": {"field": "t2"},
          "y": {"field": "v", "type": "quantitative", "scale": {"domain": [-4, 4], "nice": false, "zero": false}, "axis": null},
          "y2": {"field": "v2"},
          "color": {"field": "r", "type": "nominal", "legend": null}
        }
      },
      {
        "transform": [{"filter": "datum.k=='ol'"}],
        "mark": {"type": "rect", "fillOpacity": 0, "strokeWidth": 1},
        "encoding": {
          "x": {"field": "t", "type": "quantitative", "scale": {"domain": [0, 12], "nice": false, "zero": false}, "axis": null},
          "x2": {"field": "t2"},
          "y": {"field": "v", "type": "quantitative", "scale": {"domain": [-4, 4], "nice": false, "zero": false}, "axis": null},
          "y2": {"field": "v2"},
          "stroke": {"field": "r", "type": "nominal", "legend": null,
                     "scale": {"domain": ["bat", "mem", "outmag", "outblue"], "range": ["#c89858", "#8c8c8c", "#e21ee2", "#1a1ae0"]}}
        }
      },
      {
        "transform": [{"filter": "datum.k=='td'"}],
        "mark": {"type": "point", "shape": "triangle-down", "filled": true, "size": 30, "opacity": 1},
        "encoding": {
          "x": {"field": "t", "type": "quantitative", "scale": {"domain": [0, 12], "nice": false, "zero": false}, "axis": null},
          "y": {"field": "v", "type": "quantitative", "scale": {"domain": [-4, 4], "nice": false, "zero": false}, "axis": null},
          "color": {"field": "r", "type": "nominal", "legend": null}
        }
      },
      {
        "transform": [{"filter": "datum.k=='trr'"}],
        "mark": {"type": "point", "shape": "triangle-right", "filled": true, "size": 40, "opacity": 1},
        "encoding": {
          "x": {"field": "t", "type": "quantitative", "scale": {"domain": [0, 12], "nice": false, "zero": false}, "axis": null},
          "y": {"field": "v", "type": "quantitative", "scale": {"domain": [-4, 4], "nice": false, "zero": false}, "axis": null},
          "color": {"field": "r", "type": "nominal", "legend": null}
        }
      },
      {
        "transform": [{"filter": "datum.k=='tx'"}],
        "mark": {"type": "text", "align": "left", "baseline": "middle", "font": "DejaVu Sans Mono", "fontSize": 10},
        "encoding": {
          "x": {"field": "t", "type": "quantitative", "scale": {"domain": [0, 12], "nice": false, "zero": false}, "axis": null},
          "y": {"field": "v", "type": "quantitative", "scale": {"domain": [-4, 4], "nice": false, "zero": false}, "axis": null},
          "text": {"field": "txt"},
          "color": {"field": "r", "type": "nominal", "legend": null}
        }
      },
      {
        "transform": [{"filter": "datum.k=='tc'"}],
        "mark": {"type": "text", "align": "center", "baseline": "middle", "font": "DejaVu Sans Mono", "fontSize": 9, "fontWeight": "bold"},
        "encoding": {
          "x": {"field": "t", "type": "quantitative", "scale": {"domain": [0, 12], "nice": false, "zero": false}, "axis": null},
          "y": {"field": "v", "type": "quantitative", "scale": {"domain": [-4, 4], "nice": false, "zero": false}, "axis": null},
          "text": {"field": "txt"},
          "color": {"field": "r", "type": "nominal", "legend": null}
        }
      },
      {
        "transform": [{"filter": "datum.k=='mz'"}],
        "mark": {"type": "text", "align": "left", "baseline": "middle", "font": "DejaVu Sans Mono", "fontSize": 8},
        "encoding": {
          "x": {"field": "t", "type": "quantitative", "scale": {"domain": [0, 12], "nice": false, "zero": false}, "axis": null},
          "y": {"field": "v", "type": "quantitative", "scale": {"domain": [-4, 4], "nice": false, "zero": false}, "axis": null},
          "text": {"field": "txt"},
          "color": {"field": "r", "type": "nominal", "legend": null}
        }
      },
      {
        "transform": [{"filter": "datum.k=='fq'"}],
        "mark": {"type": "text", "align": "left", "baseline": "middle", "font": "DejaVu Sans Mono", "fontSize": 9.5},
        "encoding": {
          "x": {"field": "t", "type": "quantitative", "scale": {"domain": [0, 12], "nice": false, "zero": false}, "axis": null},
          "y": {"field": "v", "type": "quantitative", "scale": {"domain": [-4, 4], "nice": false, "zero": false}, "axis": null},
          "text": {"field": "txt"},
          "color": {"field": "r", "type": "nominal", "legend": null}
        }
      },
      {
        "transform": [{"filter": "datum.k=='an'"}],
        "mark": {"type": "text", "align": "center", "baseline": "middle", "font": "Open Sans", "fontSize": 14},
        "encoding": {
          "x": {"field": "t", "type": "quantitative", "scale": {"domain": [0, 12], "nice": false, "zero": false}, "axis": null},
          "y": {"field": "v", "type": "quantitative", "scale": {"domain": [-4, 4], "nice": false, "zero": false}, "axis": null},
          "text": {"field": "txt"},
          "color": {"field": "r", "type": "nominal", "legend": null}
        }
      }
    ]
  }
}
